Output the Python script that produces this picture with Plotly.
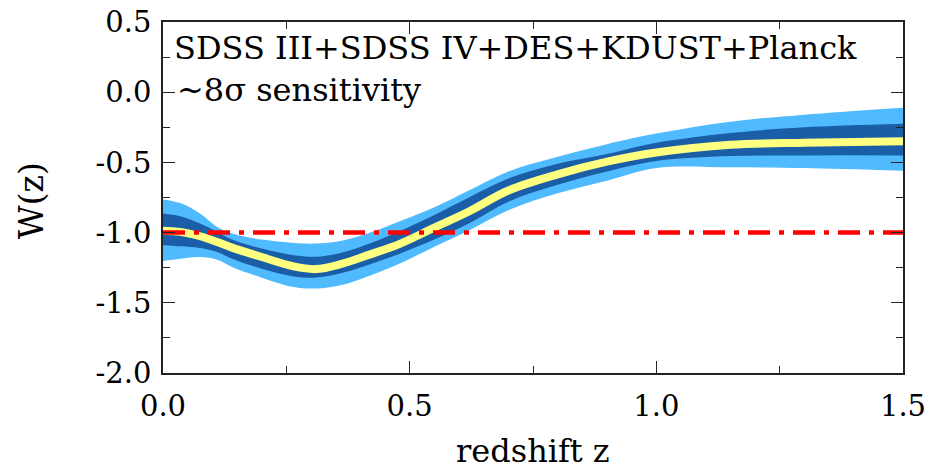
import plotly.graph_objects as go

# redshift grid
z = [0.0, 0.035, 0.075, 0.11, 0.14, 0.2, 0.265, 0.31, 0.36, 0.42, 0.48, 0.55, 0.62, 0.7, 0.8, 0.9, 1.0, 1.15, 1.3, 1.5]
# central w(z)
w_mid = [-0.986, -0.995, -1.026, -1.067, -1.107, -1.174, -1.241, -1.26, -1.225, -1.155, -1.08, -0.965, -0.85, -0.70, -0.585, -0.495, -0.43, -0.375, -0.36, -0.35]
# 1-sigma band
w_1s_hi = [-0.864, -0.884, -0.936, -0.995, -1.05, -1.114, -1.162, -1.172, -1.145, -1.075, -0.99, -0.875, -0.75, -0.615, -0.51, -0.44, -0.36, -0.29, -0.25, -0.225]
w_1s_lo = [-1.09, -1.098, -1.11, -1.138, -1.186, -1.257, -1.312, -1.32, -1.29, -1.225, -1.15, -1.05, -0.935, -0.78, -0.66, -0.565, -0.49, -0.455, -0.45, -0.45]
# 2-sigma band
w_2s_hi = [-0.764, -0.79, -0.864, -0.96, -1.007, -1.05, -1.074, -1.078, -1.06, -1.00, -0.92, -0.82, -0.70, -0.565, -0.46, -0.37, -0.295, -0.21, -0.16, -0.11]
w_2s_lo = [-1.203, -1.186, -1.174, -1.193, -1.245, -1.321, -1.388, -1.398, -1.375, -1.305, -1.22, -1.10, -0.985, -0.84, -0.72, -0.63, -0.54, -0.535, -0.54, -0.56]
# cosmological constant reference
ref_z = [0.0, 1.5]
ref_w = [-1.0, -1.0]

# tick labels
x_tickvals = [0.0, 0.5, 1.0, 1.5]
x_ticktext = ["0.0", "0.5", "1.0", "1.5"]
y_tickvals = [-2.0, -1.5, -1.0, -0.5, 0.0, 0.5]
y_ticktext = ["-2.0", "-1.5", "-1.0", "-0.5", "0.0", "0.5"]

LIGHT = "#4FBAFD"
DARK = "#1A5EA8"
YELLOW = "#FFFF80"
RED = "#FF0000"
FONT = "DejaVu Serif"

fig = go.Figure()
band = dict(width=0, shape="spline", smoothing=1.0)
fig.add_trace(go.Scatter(x=z, y=w_2s_lo, mode="lines", line=dict(color=LIGHT, **band),
                         showlegend=False, hoverinfo="skip"))
fig.add_trace(go.Scatter(x=z, y=w_2s_hi, mode="lines", line=dict(color=LIGHT, **band),
                         fill="tonexty", fillcolor=LIGHT, showlegend=False, hoverinfo="skip"))
fig.add_trace(go.Scatter(x=z, y=w_1s_lo, mode="lines", line=dict(color=DARK, **band),
                         showlegend=False, hoverinfo="skip"))
fig.add_trace(go.Scatter(x=z, y=w_1s_hi, mode="lines", line=dict(color=DARK, **band),
                         fill="tonexty", fillcolor=DARK, showlegend=False, hoverinfo="skip"))
fig.add_trace(go.Scatter(x=z, y=w_mid, mode="lines",
                         line=dict(width=8, shape="spline", smoothing=1.0, color=YELLOW),
                         showlegend=False))
fig.add_trace(go.Scatter(x=ref_z, y=ref_w, mode="lines",
                         line=dict(width=4.5, color=RED, dash="22px,9px,5px,9px"),
                         showlegend=False))

axis_common = dict(
    showline=True, mirror="allticks", linecolor="#222", linewidth=1.5,
    ticks="inside", ticklen=12, tickwidth=1.2, tickcolor="#222",
    showgrid=False, zeroline=False, automargin=False,
    tickfont=dict(family=FONT, size=29, color="black"),
    minor=dict(ticks="inside", ticklen=7, tickwidth=1.2, tickcolor="#222", dtick=0.25, showgrid=False),
)

fig.update_xaxes(range=[0, 1.5], tickmode="array", tickvals=x_tickvals, ticktext=x_ticktext,
                 ticklabelstandoff=6, **axis_common)
fig.update_yaxes(range=[-2.0, 0.5], tickmode="array", tickvals=y_tickvals, ticktext=y_ticktext,
                 ticklabelstandoff=4, **axis_common)

# axis titles
fig.add_annotation(text="redshift z", xref="paper", yref="paper", x=0.5, y=-0.222,
                   xanchor="center", yanchor="middle", showarrow=False,
                   font=dict(family=FONT, size=32, color="black"))
fig.add_annotation(text="W(z)", xref="paper", yref="paper", x=-0.178, y=0.49, textangle=-90,
                   xanchor="center", yanchor="middle", showarrow=False,
                   font=dict(family=FONT, size=33, color="black"))

# in-plot labels
fig.add_annotation(text="SDSS III+SDSS IV+DES+KDUST+Planck", xref="paper", yref="paper",
                   x=0.012, y=0.985, xanchor="left", yanchor="top", showarrow=False,
                   font=dict(family=FONT, size=32, color="black"))
fig.add_annotation(text="~8σ sensitivity", xref="paper", yref="paper",
                   x=0.016, y=0.865, xanchor="left", yanchor="top", showarrow=False,
                   font=dict(family=FONT, size=32, color="black"))

fig.update_layout(
    width=927, height=472,
    margin=dict(l=163, r=24, t=22, b=99, autoexpand=False),
    plot_bgcolor="white", paper_bgcolor="white",
)
fig.write_html("out.html")
